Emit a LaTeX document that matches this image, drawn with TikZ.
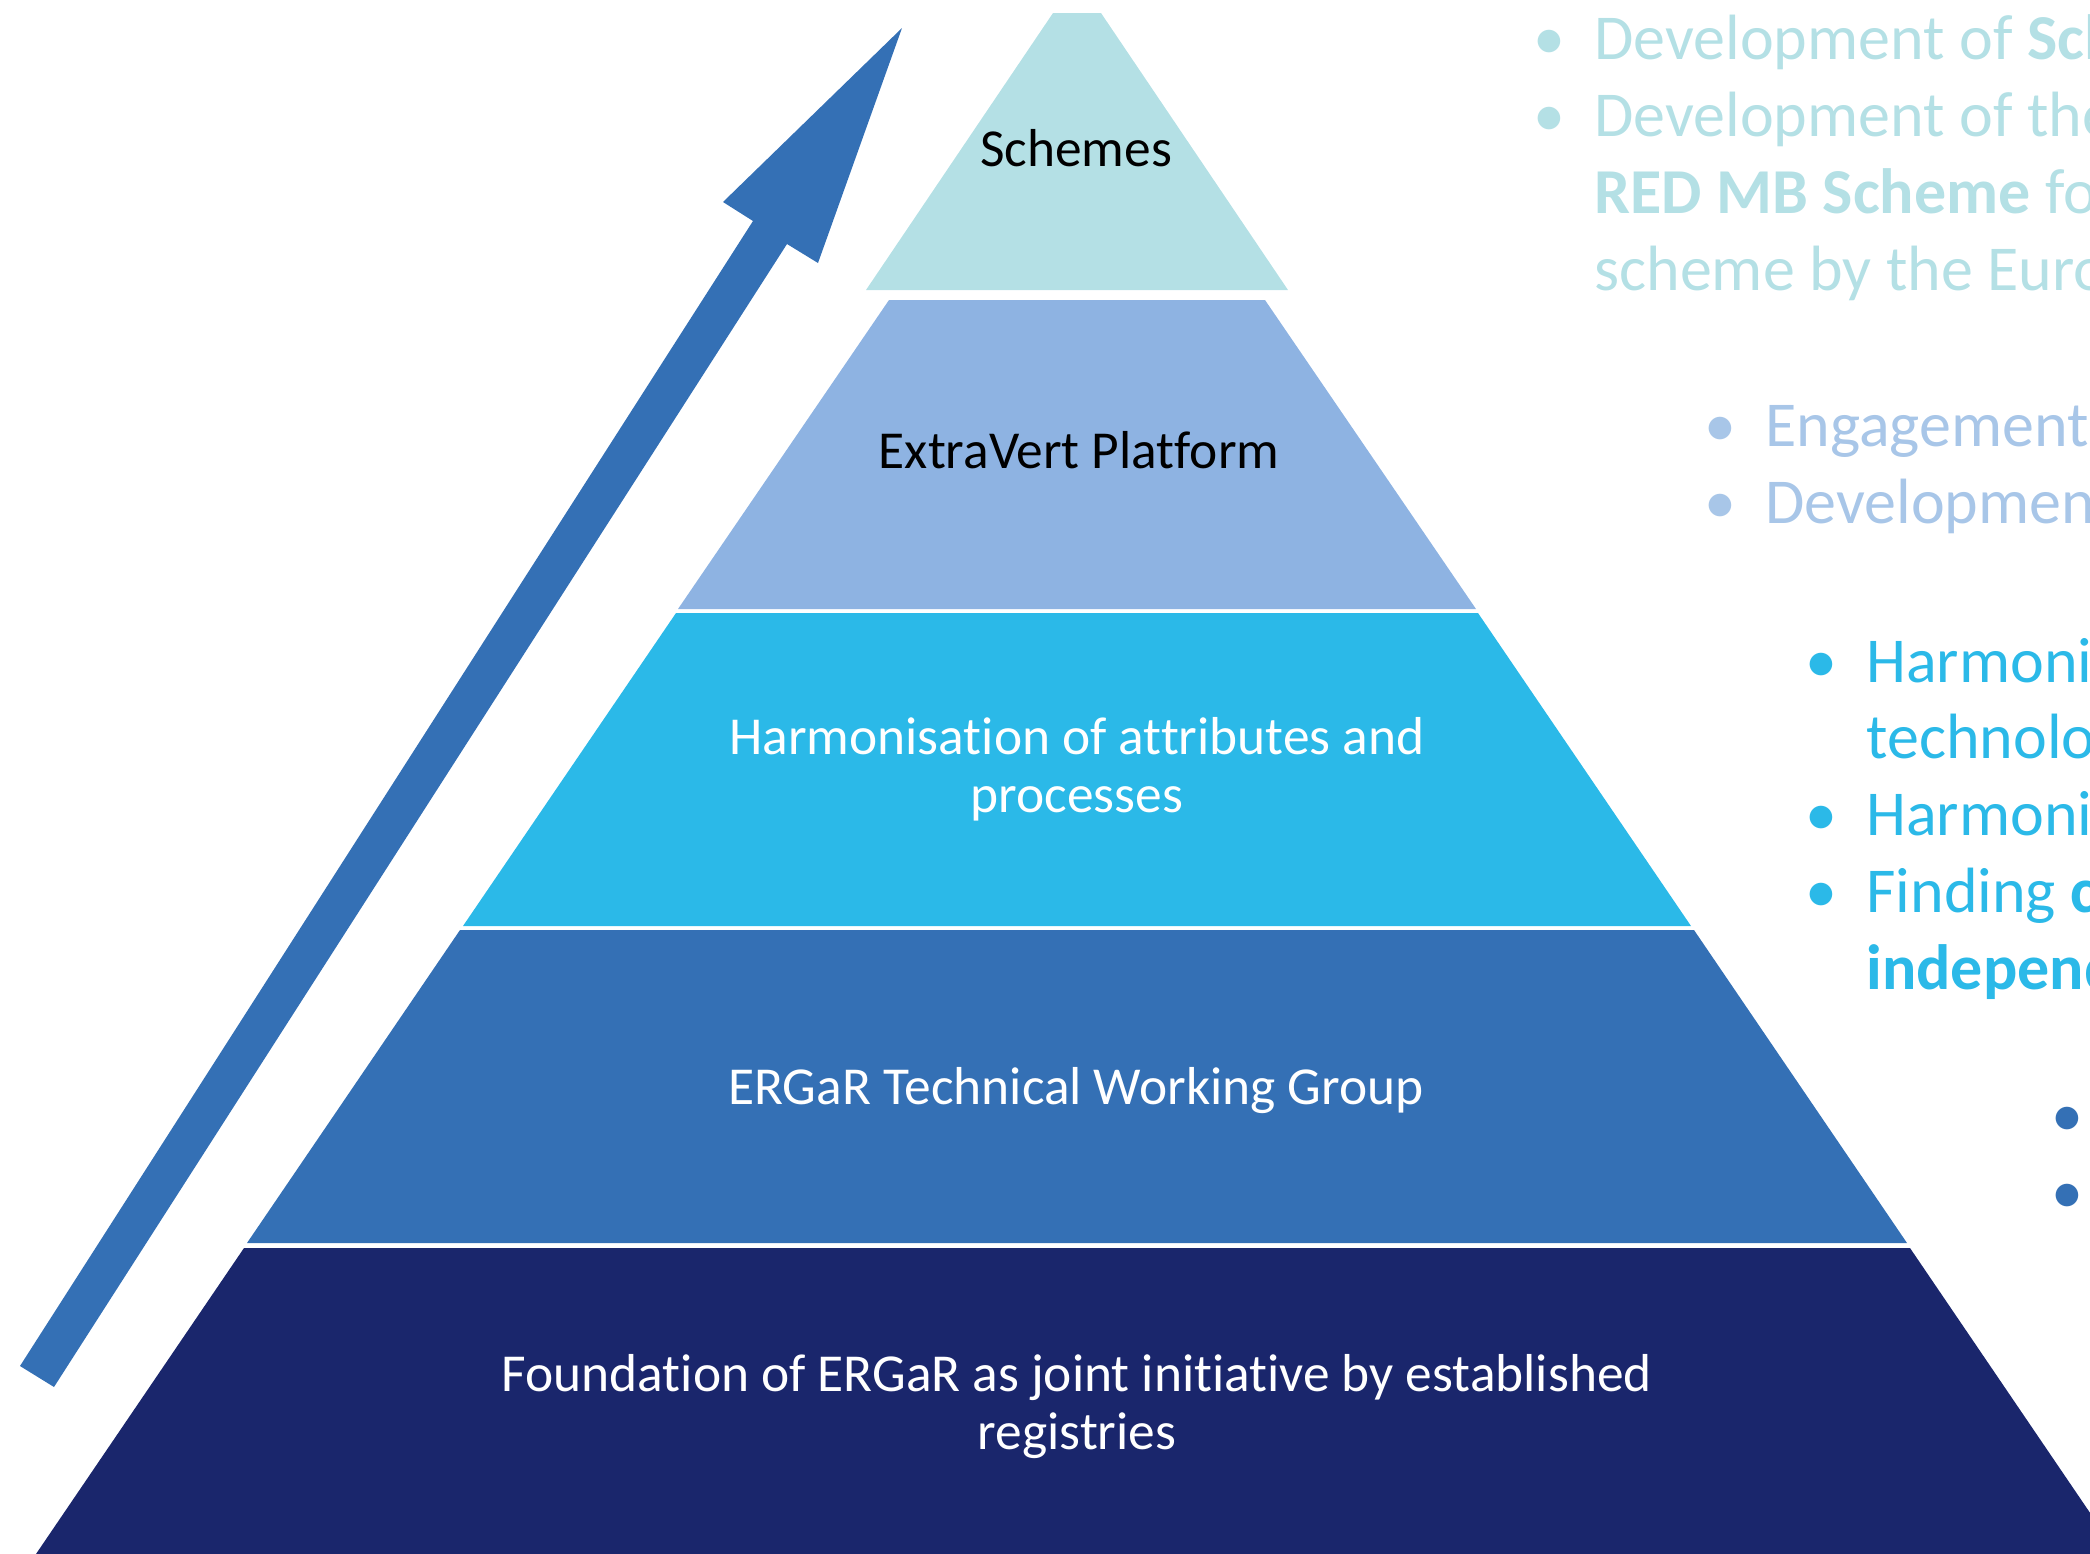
\documentclass[tikz,border=0pt]{standalone}
\usepackage{fontspec}
\setmainfont{Carlito}[Ligatures=NoCommon]
\usepackage{tikz}
\usetikzlibrary{positioning}
\definecolor{schemeCyan}{RGB}{180,224,229}
\definecolor{platformBlue}{RGB}{142,179,226}
\definecolor{platformText}{RGB}{168,198,232}
\definecolor{harmonCyan}{RGB}{43,185,232}
\definecolor{groupBlue}{RGB}{52,112,181}
\definecolor{foundNavy}{RGB}{26,38,108}
\newcommand{\bulitem}{\makebox[45pt][c]{\textbullet}}
\newcommand{\bulgap}{\hspace*{45pt}}

\begin{document}
\begin{tikzpicture}[x=0.5pt,y=-0.5pt,
    lbl/.style={font=\fontsize{26.7pt}{28.75pt}\selectfont,align=center,
                inner sep=0pt,anchor=base},
    notes/.style={font=\fontsize{32pt}{38.35pt}\selectfont,align=left,
                  inner sep=0pt,anchor=base west}
  ]
  \clip (0,0) rectangle (2090,1554);
  % rising arrow
  \fill[groupBlue] (20,1366) -- (753,221) -- (723,202) -- (902,28)
    -- (818,263) -- (787,244) -- (54,1387) -- cycle;
  % pyramid layers
  \fill[schemeCyan] (1053,13) -- (1101,13) -- (1288,290) -- (866,290) -- cycle;
  \fill[platformBlue] (889,300) -- (1265,300) -- (1476,609) -- (678,609) -- cycle;
  \fill[harmonCyan] (676,613) -- (1478,613) -- (1691,926) -- (463,926) -- cycle;
  \fill[groupBlue] (460,930) -- (1694,930) -- (1907,1243) -- (247,1243) -- cycle;
  \fill[foundNavy] (244,1248) -- (1910,1248) -- (2118,1554) -- (36,1554) -- cycle;
  % layer labels (base = last line)
  \node[lbl] (schemes) at (1076,166) {Schemes};
  \node[lbl] (platform) at (1079,468) {ExtraVert Platform};
  \node[lbl,text=white] (harmon) at (1077,812)
    {Harmonisation of attributes and\\processes};
  \node[lbl,text=white] (workgroup) at (1076,1104) {ERGaR Technical Working Group};
  \node[lbl,text=white] (foundation) at (1077,1449)
    {Foundation of ERGaR as joint initiative by established\\registries};
  % notes beside the pyramid
  \node[notes,text=schemeCyan] (schemesNotes) at (1504,290)
    {\bulitem Development of \textbf{Schemes}\\
     \bulitem Development of the\\
     \bulgap\textbf{RED MB Scheme} for\\
     \bulgap scheme by the European};
  \node[notes,text=platformText] (platformNotes) at (1675,523)
    {\bulitem Engagement\\
     \bulitem Development};
  \node[notes,text=harmonCyan] (harmonNotes) at (1776,989)
    {\bulitem Harmonisation\\
     \bulgap technology\\
     \bulitem Harmonisation\\
     \bulitem Finding \textbf{common}\\
     \bulgap\textbf{independent}};
  \node[notes,text=groupBlue] (workgroupNotes) at (2022,1213)
    {\bulitem\\
     \bulitem};
\end{tikzpicture}
\end{document}
